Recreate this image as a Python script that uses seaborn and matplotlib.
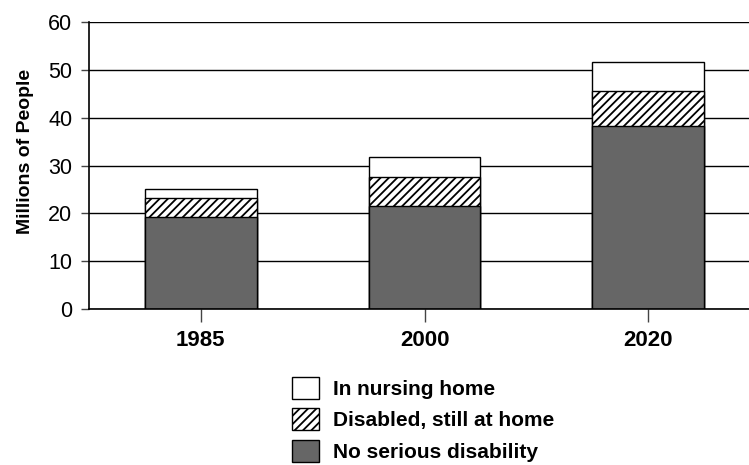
import numpy as np
import pandas as pd
import matplotlib
matplotlib.use("Agg")
import matplotlib.pyplot as plt
from matplotlib.patches import Patch
import seaborn as sns

# --- DATI ---
years = ["1985", "2000", "2020"]
no_disability = [19.2, 21.5, 38.2]
disabled_home = [4.0, 6.1, 7.3]
nursing_home = [1.8, 4.2, 6.0]
y_ticks = [0, 10, 20, 30, 40, 50, 60]

legend_labels = ["In nursing home", "Disabled, still at home", "No serious disability"]

# --- STILE ---
sns.set_style("white")
plt.rcParams["font.family"] = ["Liberation Sans", "DejaVu Sans"]
plt.rcParams["hatch.linewidth"] = 1.3
plt.rcParams["text.color"] = "black"
plt.rcParams["axes.labelcolor"] = "black"
plt.rcParams["xtick.color"] = "black"
plt.rcParams["ytick.color"] = "black"

dark = "#666666"

df = pd.DataFrame({
    "Year": years,
    "no_dis": no_disability,
    "disabled": disabled_home,
    "nursing": nursing_home,
})
# altezze cumulative (disegnate dal fondo verso il davanti)
df["top_dis"] = df["no_dis"] + df["disabled"]
df["total"] = df["top_dis"] + df["nursing"]

fig = plt.figure(figsize=(7.49, 4.65), dpi=100)
ax = fig.add_axes([0.1188, 0.3348, 0.881, 0.6185])
ax.set_axisbelow(True)
ax.yaxis.grid(True, color="black", linewidth=1.0)

common = dict(order=years, width=0.5, saturation=1, errorbar=None,
              edgecolor="black", linewidth=1.0, ax=ax)
sns.barplot(data=df, x="Year", y="total", color="white", **common)
sns.barplot(data=df, x="Year", y="top_dis", color="white", hatch="////", **common)
sns.barplot(data=df, x="Year", y="no_dis", color=dark, **common)

ax.set_xlim(-0.5, 2.45)
ax.set_ylim(0, 60)
ax.set_yticks(y_ticks)
ax.set_yticklabels([str(t) for t in y_ticks], fontsize=15.5)
ax.set_xticks(range(len(years)))
ax.set_xticklabels(years, fontsize=16, fontweight="bold")
ax.set_xlabel("")
ax.set_ylabel("Millions of People", fontsize=14, fontweight="bold")
ax.yaxis.set_label_coords(-0.083, 0.55)

for s in ["top", "right"]:
    ax.spines[s].set_visible(False)
for s in ["left", "bottom"]:
    ax.spines[s].set_color("black")
    ax.spines[s].set_linewidth(1.2)

ax.tick_params(axis="y", direction="out", length=6, width=1, color="#444444",
               left=True, pad=6)
ax.tick_params(axis="x", direction="out", length=9, width=1, color="#444444",
               bottom=True, pad=6)

handles = [
    Patch(facecolor="white", edgecolor="black", linewidth=1.0),
    Patch(facecolor="white", edgecolor="black", linewidth=1.0, hatch="////"),
    Patch(facecolor=dark, edgecolor="black", linewidth=1.0),
]
fig.legend(handles, legend_labels, loc="upper left",
           bbox_to_anchor=(292 / 749, 1 - 377 / 465),
           frameon=False, borderpad=0, borderaxespad=0,
           handlelength=1.3, handleheight=1.25, handletextpad=0.65,
           labelspacing=0.45, prop={"size": 15, "weight": "bold"})

fig.savefig("out.png", dpi=100)
